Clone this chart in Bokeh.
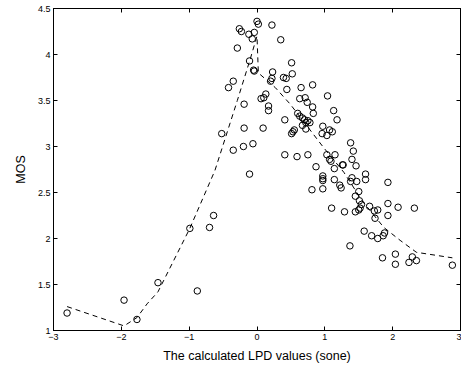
from bokeh.plotting import figure
from bokeh.models import LinearAxis, FixedTicker, Range1d
from bokeh.embed import file_html
from bokeh.resources import INLINE

lpd = [-2.80, -1.96, -1.77, -1.46, -0.88, -0.99, -0.70, -0.64, -0.11, -0.52,
       -0.19, 0.09, -0.35, -0.20, -0.06, -0.19, 0.00, 0.02, 0.22, -0.26,
       -0.23, -0.12, -0.04, -0.07, 0.35, -0.29, -0.11, -0.05, -0.04, 0.51,
       0.52, 0.23, 0.22, 0.20, 0.39, 0.43, -0.35, -0.42, 0.44, 0.65,
       0.13, 0.10, 0.06, 0.17, 0.17, 0.63, 0.71, 0.74, 0.82, 1.04,
       0.82, 0.83, 1.13, 1.18, 0.41, 0.60, 0.63, 0.67, 0.70, 0.75,
       0.78, 0.72, 0.67, 0.72, 0.55, 0.53, 0.51, 0.97, 1.07, 1.11,
       0.96, 1.03, 1.38, 1.42, 1.40, 1.46, 1.26, 1.27, 0.41, 0.59,
       0.75, 1.03, 1.15, 1.07, 1.09, 0.87, 1.14, 0.97, 0.97, 0.97,
       1.14, 1.22, 1.24, 1.40, 1.47, 1.38, 1.60, 1.60, 1.93, 0.81,
       0.97, 1.50, 1.45, 1.51, 1.54, 1.50, 1.52, 1.45, 1.29, 1.10,
       1.66, 1.73, 1.78, 1.74, 1.93, 1.93, 2.08, 2.32, 1.58, 1.69,
       1.78, 1.86, 1.88, 1.37, 1.85, 2.04, 2.04, 2.24, 2.29, 2.35, 2.88]

mos = [1.19, 1.33, 1.12, 1.52, 1.43, 2.11, 2.12, 2.25, 2.70, 3.14,
       3.20, 3.20, 2.96, 3.00, 3.03, 3.46, 4.36, 4.33, 4.32, 4.28,
       4.25, 4.22, 4.24, 4.17, 4.16, 4.07, 3.93, 3.83, 3.82, 3.91,
       3.79, 3.81, 3.74, 3.71, 3.75, 3.74, 3.71, 3.64, 3.62, 3.64,
       3.57, 3.53, 3.52, 3.44, 3.39, 3.52, 3.53, 3.48, 3.67, 3.55,
       3.43, 3.36, 3.39, 3.29, 3.29, 3.36, 3.33, 3.31, 3.29, 3.28,
       3.26, 3.26, 3.23, 3.19, 3.18, 3.16, 3.14, 3.22, 3.18, 3.16,
       3.14, 3.12, 3.04, 2.95, 2.86, 2.79, 2.80, 2.80, 2.91, 2.89,
       2.91, 2.91, 2.91, 2.86, 2.84, 2.78, 2.76, 2.68, 2.65, 2.63,
       2.64, 2.58, 2.55, 2.66, 2.62, 2.62, 2.70, 2.64, 2.61, 2.53,
       2.54, 2.51, 2.46, 2.41, 2.37, 2.31, 2.33, 2.29, 2.29, 2.33,
       2.35, 2.30, 2.31, 2.22, 2.38, 2.25, 2.34, 2.33, 2.08, 2.03,
       2.00, 2.03, 2.06, 1.92, 1.79, 1.83, 1.72, 1.74, 1.80, 1.76, 1.71]

fit_x = [-2.80, -1.96, -1.77, -1.62, -1.46, -0.99, -0.62, -0.29, -0.10, 0.00,
         0.02, 0.27, 0.49, 0.98, 1.28, 1.55, 1.87, 2.11, 2.35, 2.88]
fit_y = [1.26, 1.05, 1.14, 1.29, 1.42, 2.11, 2.74, 3.50, 3.95, 4.20,
         3.80, 3.64, 3.46, 2.99, 2.72, 2.41, 2.12, 1.98, 1.85, 1.79]

x_ticks = [-3, -2, -1, 0, 1, 2, 3]
x_tick_labels = {-3: "\u22123", -2: "\u22122", -1: "\u22121", 0: "0", 1: "1", 2: "2", 3: "3"}
y_ticks = [1, 1.5, 2, 2.5, 3, 3.5, 4, 4.5]
y_tick_labels = {1: "1", 1.5: "1.5", 2: "2", 2.5: "2.5", 3: "3", 3.5: "3.5", 4: "4", 4.5: "4.5"}

FONT = "Liberation Sans"

p = figure(width=461, height=366, output_backend="svg", toolbar_location=None,
           x_range=Range1d(-3, 3), y_range=Range1d(1, 4.5),
           min_border_left=53, min_border_right=1, min_border_top=8, min_border_bottom=36,
           x_axis_location=None, y_axis_location=None)
p.grid.visible = False
p.outline_line_color = "black"
p.outline_line_width = 1
p.background_fill_color = "white"
p.border_fill_color = "white"

def style(ax, labels, show):
    ax.major_tick_in = 4
    ax.major_tick_out = 0
    ax.minor_tick_in = 0
    ax.minor_tick_out = 0
    ax.axis_line_color = "black"
    ax.major_tick_line_color = "black"
    ax.major_label_text_font = FONT
    if show:
        ax.major_label_text_color = "black"
        ax.major_label_text_font_size = "9px"
        ax.major_label_standoff = 3
        ax.major_label_overrides = labels
        ax.axis_label_text_font = FONT
        ax.axis_label_text_font_size = "12.5px"
        ax.axis_label_text_font_style = "normal"
        ax.axis_label_text_color = "black"
    else:
        ax.major_label_text_color = None
        ax.major_label_text_alpha = 0
        ax.major_label_text_font_size = "0px"
        ax.major_label_standoff = 0

xb = LinearAxis(ticker=FixedTicker(ticks=x_ticks), axis_label="The calculated LPD values (sone)")
style(xb, x_tick_labels, True)
xb.axis_label_standoff = 6
p.add_layout(xb, "below")

yl = LinearAxis(ticker=FixedTicker(ticks=y_ticks), axis_label="MOS")
style(yl, y_tick_labels, True)
yl.axis_label_standoff = 7
p.add_layout(yl, "left")

xt = LinearAxis(ticker=FixedTicker(ticks=x_ticks))
style(xt, {}, False)
p.add_layout(xt, "above")

yr = LinearAxis(ticker=FixedTicker(ticks=y_ticks))
style(yr, {}, False)
p.add_layout(yr, "right")

p.line(fit_x, fit_y, line_color="black", line_width=1, line_dash="5 4")
p.scatter(lpd, mos, marker="circle", size=6.5, fill_color=None,
          line_color="black", line_width=1)

open("out.html", "w").write(file_html(p, INLINE))
